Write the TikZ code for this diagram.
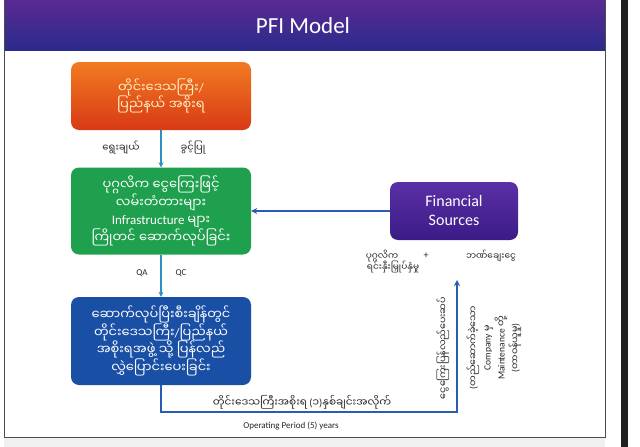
\documentclass[tikz,border=0pt]{standalone}
\usepackage{fontspec}
\setmainfont{Carlito}
\newfontfamily\mmfont[Script=Myanmar]{Noto Sans Myanmar UI}
\newcommand\mm[1]{{\mmfont #1}}
\usetikzlibrary{arrows.meta}
\definecolor{titletop}{HTML}{5A2A92}
\definecolor{titlebot}{HTML}{2B2B8C}
\definecolor{orangetop}{HTML}{F27A22}
\definecolor{orangebot}{HTML}{D83A16}
\definecolor{greenbox}{HTML}{1FA04E}
\definecolor{bluebox}{HTML}{1A4FA6}
\definecolor{fintop}{HTML}{5B2FA6}
\definecolor{finbot}{HTML}{3A1C86}
\definecolor{tealarrow}{HTML}{2E8FC3}
\definecolor{bluearrow}{HTML}{2A5CB4}
\definecolor{darkbar}{HTML}{231F20}
\definecolor{paleyellow}{HTML}{FFF2C2}
\tikzset{
  box/.style={rounded corners=8pt, minimum width=180pt, align=center, text=white,
    font=\fontsize{13}{17.5}\selectfont, inner sep=2pt},
  lbl/.style={text=black!85, font=\fontsize{10}{12}\selectfont, inner sep=1pt},
  vlbl/.style={text=black!85, font=\fontsize{9.5}{14}\selectfont, inner sep=1pt, rotate=90, align=center},
  tealflow/.style={-{Stealth[length=5pt,width=5pt]}, line width=1.3pt, tealarrow},
  blueflow/.style={-{Stealth[length=6pt,width=6pt]}, line width=1.8pt, bluearrow}
}
\begin{document}
\begin{tikzpicture}[x=1pt,y=-1pt]
\useasboundingbox (0,0) rectangle (640,447);
\fill[white] (0,0) rectangle (640,447);
% slide frame and title
\shade[top color=titletop, bottom color=titlebot] (4,0) rectangle (605,50);
\node[text=white, font=\fontsize{23}{26}\selectfont] (title) at (303,26) {PFI Model};
\draw[black!70, line width=0.8pt] (4,0) -- (4,437) -- (605,437) -- (605,0);
\fill[black!6] (4,438) rectangle (605,447);
\fill[darkbar] (621,0) rectangle (628,447);
% boxes
\node[box, top color=orangetop, bottom color=orangebot, text=paleyellow, minimum height=68pt] (govt) at (161,96)
  {\mm{တိုင်းဒေသကြီး}/\\\mm{ပြည်နယ် အစိုးရ}};
\node[box, fill=greenbox, minimum height=87pt] (build) at (161,211)
  {\mm{ပုဂ္ဂလိက ငွေကြေးဖြင့်}\\\mm{လမ်းတံတားများ}\\Infrastructure \mm{များ}\\\mm{ကြိုတင် ဆောက်လုပ်ခြင်း}};
\node[box, fill=bluebox, minimum height=88pt] (hand) at (161,341)
  {\mm{ဆောက်လုပ်ပြီးစီးချိန်တွင်}\\\mm{တိုင်းဒေသကြီး}/\mm{ပြည်နယ်}\\\mm{အစိုးရအဖွဲ့ သို့ ပြန်လည်}\\\mm{လွှဲပြောင်းပေးခြင်း}};
\node[box, top color=fintop, bottom color=finbot, minimum width=128pt, minimum height=58pt,
  font=\fontsize{16}{19}\selectfont] (fin) at (454,211) {Financial\\Sources};
% connectors
\draw[tealflow] (govt) -- (build);
\node[lbl] (select) at (121,148) {\mm{ရွေးချယ်}};
\node[lbl] (permit) at (193,148) {\mm{ခွင့်ပြု}};
\draw[tealflow] (build) -- (hand);
\node[lbl, font=\fontsize{9}{10}\selectfont] (qa) at (142,273) {QA};
\node[lbl, font=\fontsize{9}{10}\selectfont] (qc) at (181,273) {QC};
\draw[blueflow] (fin) -- (build);
\node[lbl, font=\fontsize{9}{11}\selectfont] (priv) at (382,256) {\mm{ပုဂ္ဂလိက}};
\node[lbl] (plus) at (426,256) {+};
\node[lbl, font=\fontsize{9}{11}\selectfont] (loan) at (491,256) {\mm{ဘဏ်ချေးငွေ}};
\node[lbl, font=\fontsize{9}{11}\selectfont] (invest) at (393,267) {\mm{ရင်းနှီးမြှုပ်နှံမှု}};
% repayment path
\coordinate (corner) at (457,412);
\coordinate (ret) at (457,280);
\draw[blueflow] (hand) |- (corner) -- (ret);
\node[lbl, font=\fontsize{10.5}{12}\selectfont] (yearly) at (302,402) {\mm{တိုင်းဒေသကြီးအစိုးရ} (\mm{၁})\mm{နှစ်ချင်းအလိုက်}};
\node[lbl, font=\fontsize{9}{10}\selectfont] (period) at (291,426) {Operating Period (5) years};
\node[vlbl] (repay) at (443,348) {\mm{ငွေကြေးပြန်လည်ပေးဆပ်}};
\node[vlbl] (maint) at (494,348)
  {(\mm{တည်ဆောက်ခဲ့သော}\\Company \mm{မှ}\\Maintenance \mm{တို့}\\(\mm{တာဝန်ယူမှု})};
\end{tikzpicture}
\end{document}
